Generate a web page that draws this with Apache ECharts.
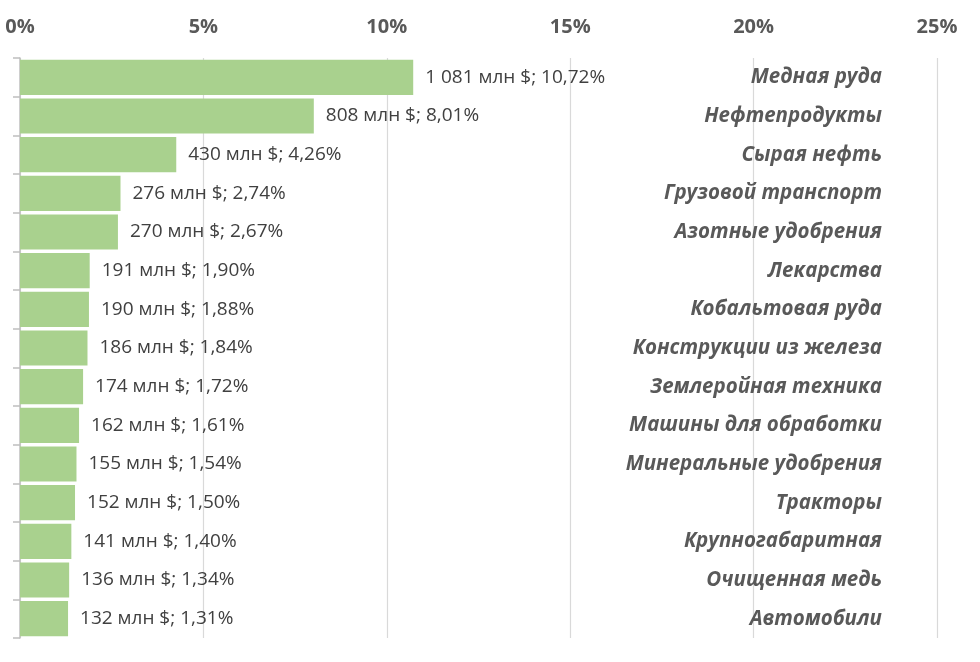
<!DOCTYPE html>
<html>
<head>
<meta charset="utf-8">
<script src="https://cdn.jsdelivr.net/npm/echarts@6/dist/echarts.min.js"></script>
<style>
  html, body { margin: 0; padding: 0; background: #fff; }
  #chart { width: 980px; height: 662px; }
</style>
</head>
<body>
<div id="chart"></div>
<script>
// категории сверху вниз
const categories = [
  'Медная руда', 'Нефтепродукты', 'Сырая нефть', 'Грузовой транспорт',
  'Азотные удобрения', 'Лекарства', 'Кобальтовая руда', 'Конструкции из железа',
  'Землеройная техника', 'Машины для обработки', 'Минеральные удобрения',
  'Тракторы', 'Крупногабаритная', 'Очищенная медь', 'Автомобили'
];
// доля, %
const shares = [10.72, 8.01, 4.26, 2.74, 2.67, 1.90, 1.88, 1.84, 1.72, 1.61, 1.54, 1.50, 1.40, 1.34, 1.31];
// млн $
const amounts = [1081, 808, 430, 276, 270, 191, 190, 186, 174, 162, 155, 152, 141, 136, 132];

const textFont = '"Open Sans", "Noto Sans", sans-serif';

function fmtAmount(v) {
  return String(v).replace(/\B(?=(\d{3})+(?!\d))/g, ' ');
}

const chart = echarts.init(document.getElementById('chart'));

const option = {
  animation: false,
  grid: { left: 20, right: 43, top: 58, bottom: 24 },
  xAxis: {
    type: 'value',
    position: 'top',
    min: 0,
    max: 25,
    interval: 5,
    axisLine: { show: false },
    axisTick: { show: false },
    axisLabel: {
      formatter: '{value}%',
      color: '#595959',
      fontSize: 20,
      fontWeight: 'bold',
      fontFamily: textFont,
      margin: 21
    },
    splitLine: { lineStyle: { color: '#D9D9D9', width: 1.2 } }
  },
  yAxis: [
    {
      type: 'category',
      inverse: true,
      data: categories,
      axisLine: { show: true, lineStyle: { color: '#BFBFBF', width: 1.5 } },
      axisTick: { show: true, length: 7, lineStyle: { color: '#BFBFBF', width: 1.5 } },
      axisLabel: { show: false }
    },
    {
      type: 'category',
      inverse: true,
      position: 'right',
      data: categories,
      axisLine: { show: false },
      axisTick: { show: false },
      axisLabel: {
        inside: true,
        margin: 55,
        color: '#595959',
        fontSize: 20.5,
        fontWeight: 'bold',
        fontStyle: 'italic',
        fontFamily: textFont,
        padding: [4, 0, 0, 0]
      }
    }
  ],
  series: [
    {
      type: 'bar',
      data: shares,
      barCategoryGap: '9%',
      itemStyle: { color: '#A9D18E' },
      label: {
        show: true,
        position: 'right',
        distance: 12,
        color: '#404040',
        fontSize: 19,
        fontFamily: textFont,
        formatter: function (p) {
          return fmtAmount(amounts[p.dataIndex]) + ' млн $; ' + p.value.toFixed(2).replace('.', ',') + '%';
        }
      }
    }
  ]
};

chart.setOption(option);
</script>
</body>
</html>
